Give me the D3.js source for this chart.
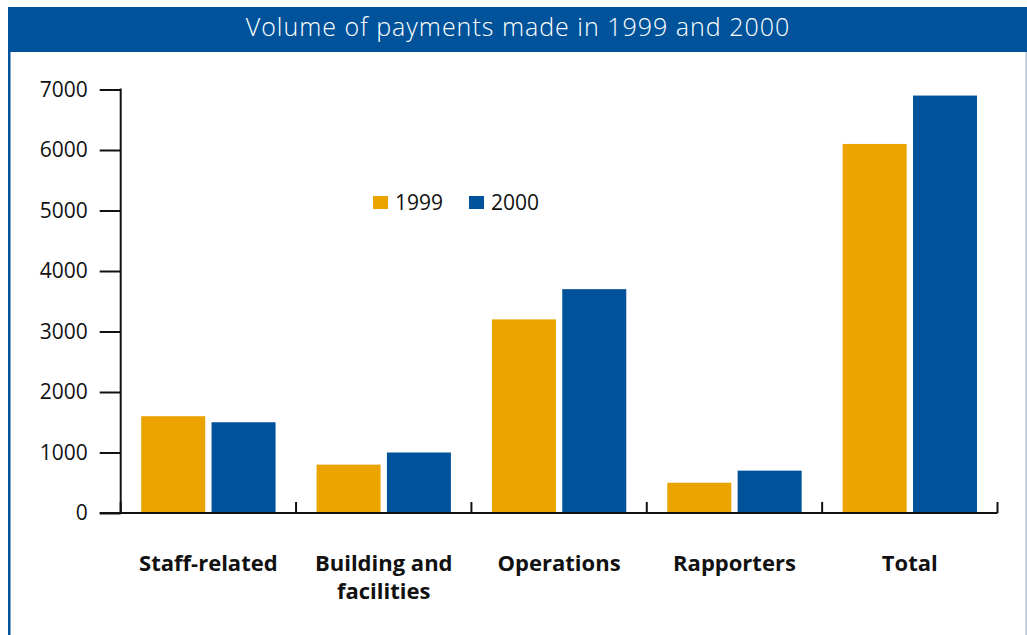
<!DOCTYPE html>
<html>
<head>
<meta charset="utf-8">
<script src="https://cdn.jsdelivr.net/npm/d3@7"></script>
<style>
  body { margin: 0; background: #fff; }
  svg { display: block; font-family: "Open Sans", "Noto Sans", sans-serif; }
</style>
</head>
<body>
<svg id="chart" width="1027" height="635"></svg>
<script>
const categories = [["Staff-related"], ["Building and", "facilities"], ["Operations"], ["Rapporters"], ["Total"]];
const years = ["1999", "2000"];
const values1999 = [1600, 800, 3200, 500, 6100];
const values2000 = [1500, 1000, 3700, 700, 6900];
const yTicks = [0, 1000, 2000, 3000, 4000, 5000, 6000, 7000];

const FONT = '"Open Sans", "Noto Sans", sans-serif';
const colors = {"1999": "#eba300", "2000": "#00539b"};
const svg = d3.select("#chart");

// frame: blue title bar, thick blue left rule, thin grey-blue right rule
svg.append("rect").attr("x", 8).attr("y", 7).attr("width", 1019).attr("height", 45).attr("fill", "#00539b");
svg.append("rect").attr("x", 8).attr("y", 52).attr("width", 2.5).attr("height", 583).attr("fill", "#00539b");
svg.append("rect").attr("x", 1025.5).attr("y", 52).attr("width", 1.2).attr("height", 583).attr("fill", "#9fb3d1");

svg.append("text")
  .attr("x", 518).attr("y", 36)
  .attr("text-anchor", "middle")
  .attr("fill", "#fff")
  .style("font-size", "25px")
  .style("font-weight", 300)
  .style("letter-spacing", "1px")
  .text("Volume of payments made in 1999 and 2000");

const x0 = 120.7, x1 = 997.5;
const y = d3.scaleLinear().domain([0, 7000]).range([513, 89.5]);
const x = d3.scaleBand().domain(d3.range(categories.length)).range([x0, x1]).paddingInner(0).paddingOuter(0);
const xs = d3.scaleBand().domain(years).range([20.5, x.bandwidth() - 20.5]).paddingInner(0.09);

// y axis
const yAxis = svg.append("g")
  .attr("transform", `translate(${x0},0)`)
  .call(d3.axisLeft(y).tickValues(yTicks).tickSize(21).tickPadding(12).tickFormat(d3.format("d")));
yAxis.attr("font-family", FONT).attr("font-size", 21);
yAxis.select(".domain").remove();
yAxis.selectAll(".tick line").attr("stroke", "#111").attr("stroke-width", 2);
yAxis.selectAll(".tick text").attr("fill", "#111");
svg.append("line").attr("x1", x0).attr("x2", x0).attr("y1", y(7000) - 1).attr("y2", y(0) + 1)
  .attr("stroke", "#111").attr("stroke-width", 2);

// bars
const groups = svg.append("g").selectAll("g")
  .data(categories.map((c, i) => ({i, vals: [values1999[i], values2000[i]]})))
  .join("g")
  .attr("transform", d => `translate(${x(d.i)},0)`);
groups.selectAll("rect")
  .data(d => d.vals.map((v, k) => ({year: years[k], v})))
  .join("rect")
  .attr("x", d => xs(d.year))
  .attr("width", xs.bandwidth())
  .attr("y", d => y(d.v))
  .attr("height", d => y(0) - y(d.v))
  .attr("fill", d => colors[d.year]);

// x axis baseline with separators
svg.append("line").attr("x1", x0 - 21).attr("x2", x1).attr("y1", y(0)).attr("y2", y(0))
  .attr("stroke", "#111").attr("stroke-width", 2);
svg.append("g").selectAll("line")
  .data(d3.range(categories.length + 1))
  .join("line")
  .attr("x1", i => i < categories.length ? x(i) : x1)
  .attr("x2", i => i < categories.length ? x(i) : x1)
  .attr("y1", y(0) - 11).attr("y2", y(0))
  .attr("stroke", "#111").attr("stroke-width", 2);

// category labels
svg.append("g").selectAll("text")
  .data(categories.map((c, i) => ({c, i})))
  .join("text")
  .attr("x", d => x(d.i) + x.bandwidth() / 2)
  .attr("y", 571)
  .attr("text-anchor", "middle")
  .attr("fill", "#111")
  .style("font-size", "22px")
  .style("font-weight", 700)
  .selectAll("tspan")
  .data(d => d.c)
  .join("tspan")
  .attr("x", function() { return d3.select(this.parentNode).attr("x"); })
  .attr("dy", (d, k) => k === 0 ? 0 : 28)
  .text(d => d);

// legend
const legend = svg.append("g").selectAll("g")
  .data(years)
  .join("g")
  .attr("transform", (d, k) => `translate(${373 + k * 96},196)`);
legend.append("rect").attr("width", 15).attr("height", 13).attr("fill", d => colors[d]);
legend.append("text").attr("x", 22).attr("y", 14).attr("fill", "#111")
  .style("font-size", "21px").text(d => d);
</script>
</body>
</html>
